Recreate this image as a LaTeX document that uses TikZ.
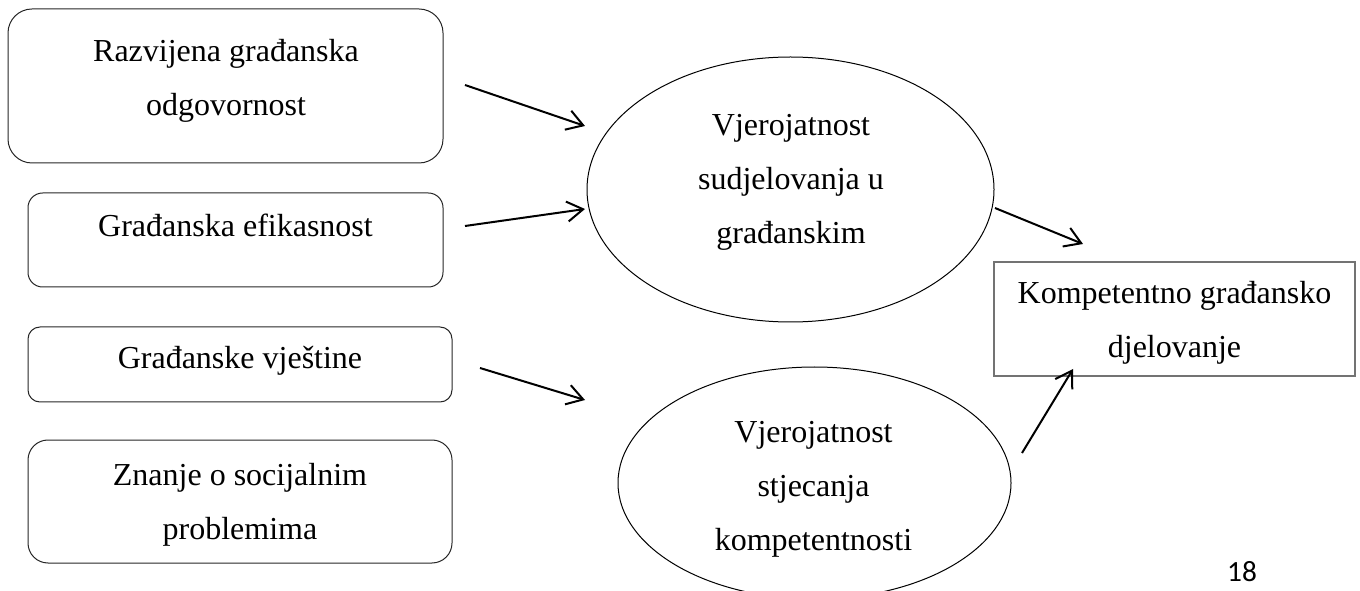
\documentclass[tikz,border=0pt]{standalone}
\usepackage{fontspec}
\setmainfont{Liberation Serif}
\newfontfamily\pagefont{Carlito}
\usetikzlibrary{arrows.meta,shapes.geometric}

\begin{document}
\begin{tikzpicture}[x=0.75pt,y=-0.75pt,
		box/.style={draw=black!85,line width=0.75pt,inner sep=0,rounded corners=#1},
		box/.default=12pt,
		txt/.style={align=center,inner sep=0,font=\fontsize{24}{40.5}\selectfont},
		oval/.style={draw,ellipse,line width=0.75pt,inner sep=0},
		link/.style={line width=1.5pt,-{Straight Barb[length=12pt,width=15pt]}}]

			\useasboundingbox (0,0) rectangle (1360,591);
			\clip (0,0) rectangle (1360,591);

			% left boxes
			\node[box=18pt,minimum width=326.25pt,minimum height=115.5pt] (r1) at (225.5,86) {};
			\node[box=11pt,minimum width=311.25pt,minimum height=70.5pt] (r2) at (235.5,240) {};
			\node[box=9pt,minimum width=318pt,minimum height=56.25pt] (r3) at (240,364.5) {};
			\node[box=15pt,minimum width=318pt,minimum height=92.25pt] (r4) at (240,501.5) {};
			\node[txt] (t1) at (226,80.5) {Razvijena građanska\\odgovornost};
			\node[txt] (t2) at (235.5,225.5) {Građanska efikasnost};
			\node[txt] (t3) at (240,360.5) {Građanske vještine};
			\node[txt] (t4) at (240,505) {Znanje o socijalnim\\problemima};

			% ellipses
			\node[oval,minimum width=305.25pt,minimum height=198.75pt] (e1) at (790.5,189.5) {};
			\node[oval,minimum width=294.75pt,minimum height=174pt] (e2) at (814.5,483) {};
			\node[txt] (t5) at (791,182.5) {Vjerojatnost\\sudjelovanja u\\građanskim};
			\node[txt] (t6) at (813.5,489) {Vjerojatnost\\stjecanja\\kompetentnosti};

			% result
			\node[draw=black!55,line width=1.1pt,inner sep=0,minimum width=270.75pt,minimum height=85.5pt] (r5) at (1174.5,319) {};
			\node[txt] (t7) at (1174.5,322.5) {Kompetentno građansko\\djelovanje};

			% arrows
			\coordinate (a1) at (465,85);
			\coordinate (b1) at (585,126);
			\coordinate (a2) at (465,226);
			\coordinate (b2) at (585,209);
			\coordinate (a3) at (480,368);
			\coordinate (b3) at (585,400);
			\coordinate (a4) at (995,208);
			\coordinate (b4) at (1083,244);
			\coordinate (a5) at (1022,453);
			\coordinate (b5) at (1073,369);
			\draw[link] (a1) -- (b1);
			\draw[link] (a2) -- (b2);
			\draw[link] (a3) -- (b3);
			\draw[link] (a4) -- (b4);
			\draw[link] (a5) -- (b5);

			\node[font=\pagefont\fontsize{22}{26}\selectfont,inner sep=0] (pg) at (1242,572) {18};

		\end{tikzpicture}
\end{document}
